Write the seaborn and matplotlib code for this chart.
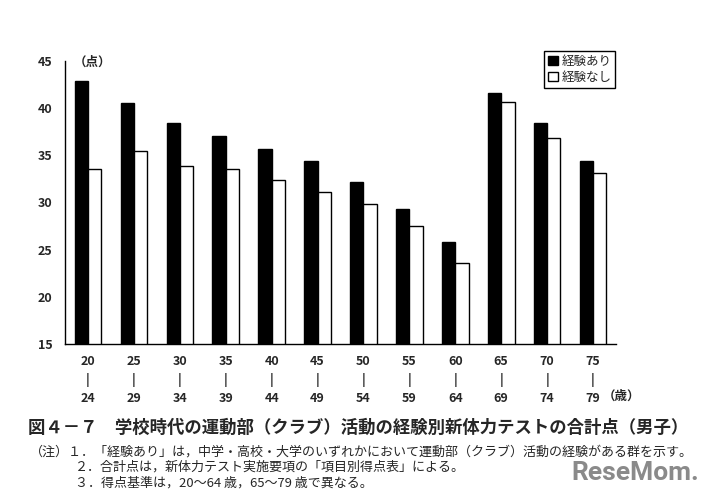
import seaborn as sns
import matplotlib.pyplot as plt
import pandas as pd
from matplotlib.patches import Patch

# 年齢区分と合計点
age_from = ['20', '25', '30', '35', '40', '45', '50', '55', '60', '65', '70', '75']
age_to = ['24', '29', '34', '39', '44', '49', '54', '59', '64', '69', '74', '79']
score_yes = [42.9, 40.5, 38.4, 37.0, 35.6, 34.4, 32.2, 29.3, 25.8, 41.6, 38.4, 34.4]
score_no = [33.5, 35.4, 33.8, 33.5, 32.4, 31.1, 29.8, 27.5, 23.6, 40.6, 36.8, 33.1]
series = ['経験あり', '経験なし']
y_ticks = [15, 20, 25, 30, 35, 40, 45]

ages = [f'{a}-{b}' for a, b in zip(age_from, age_to)]
df = pd.DataFrame({
    'age': ages * 2,
    'group': [series[0]] * len(ages) + [series[1]] * len(ages),
    'score': score_yes + score_no,
})

sns.set_style('white')
plt.rcParams['font.family'] = ['Noto Sans CJK JP', 'DejaVu Sans']

fig = plt.figure(figsize=(7.03, 4.99), dpi=100)
ax = fig.add_axes([0.0925, 0.3106, 0.7838, 0.5678])

sns.barplot(data=df, x='age', y='score', hue='group', order=ages, hue_order=series,
            palette=['black', 'white'], edgecolor='black', linewidth=1.0,
            width=0.58, gap=0, saturation=1, ax=ax, legend=False)

ax.set_xlim(-0.5, len(ages) - 0.5)
ax.set_ylim(15, 45)
ax.set_yticks(y_ticks)
ax.tick_params(axis='y', direction='out', length=5, width=1, labelsize=9, pad=4)
ax.set_xlabel('')
ax.set_ylabel('')

# 区切り目盛り(内向き)とカテゴリ名
ax.set_xticks([i + 0.5 for i in range(len(ages))])
ax.tick_params(axis='x', which='major', direction='in', length=4, width=1, labelbottom=False)
ax.set_xticks(range(len(ages)), labels=[f'{a}\n|\n{b}' for a, b in zip(age_from, age_to)], minor=True)
ax.tick_params(axis='x', which='minor', length=0, pad=8, labelsize=9)
for lab in ax.get_xticklabels(minor=True):
    lab.set_linespacing(1.45)
    lab.set_fontweight('bold')
for lab in ax.get_yticklabels():
    lab.set_fontweight('bold')

for side in ['top', 'right']:
    ax.spines[side].set_visible(False)
for side in ['left', 'bottom']:
    ax.spines[side].set_color('black')
    ax.spines[side].set_linewidth(1)

fig.text(74 / 703, 1 - 62 / 499, '（点）', fontsize=9, fontweight='bold', va='center', ha='left')
fig.text(603 / 703, 1 - 396 / 499, '（歳）', fontsize=9, fontweight='bold', va='center', ha='left')

# 凡例
handles = [Patch(facecolor='black', edgecolor='black'), Patch(facecolor='white', edgecolor='black')]
leg = ax.legend(handles, series, loc='upper left', bbox_to_anchor=(544 / 703, 1 - 51 / 499),
                bbox_transform=fig.transFigure, fontsize=9, frameon=True, fancybox=False,
                framealpha=1, edgecolor='black', borderaxespad=0, borderpad=0.3,
                handlelength=0.8, handleheight=0.8, handletextpad=0.3, labelspacing=0.25)
leg.get_frame().set_linewidth(1)

fig.text(28 / 703, 1 - 428 / 499,
         '図４－７　学校時代の運動部（クラブ）活動の経験別新体力テストの合計点（男子）',
         fontsize=12.5, fontweight='bold', va='center', ha='left')
fig.text(30 / 703, 1 - 452 / 499,
         '（注）１．「経験あり」は，中学・高校・大学のいずれかにおいて運動部（クラブ）活動の経験がある群を示す。',
         fontsize=9.4, va='center', ha='left')
fig.text(75 / 703, 1 - 467 / 499,
         '２．合計点は，新体力テスト実施要項の「項目別得点表」による。',
         fontsize=9.4, va='center', ha='left')
fig.text(75 / 703, 1 - 483 / 499,
         '３．得点基準は，20～64 歳，65～79 歳で異なる。',
         fontsize=9.4, va='center', ha='left')
fig.text(699 / 703, 1 - 473 / 499, 'ReseMom.', fontsize=19, fontweight='bold',
         color='#8a8a8a', va='center', ha='right', family='Roboto')

plt.savefig('out.png', dpi=100)
